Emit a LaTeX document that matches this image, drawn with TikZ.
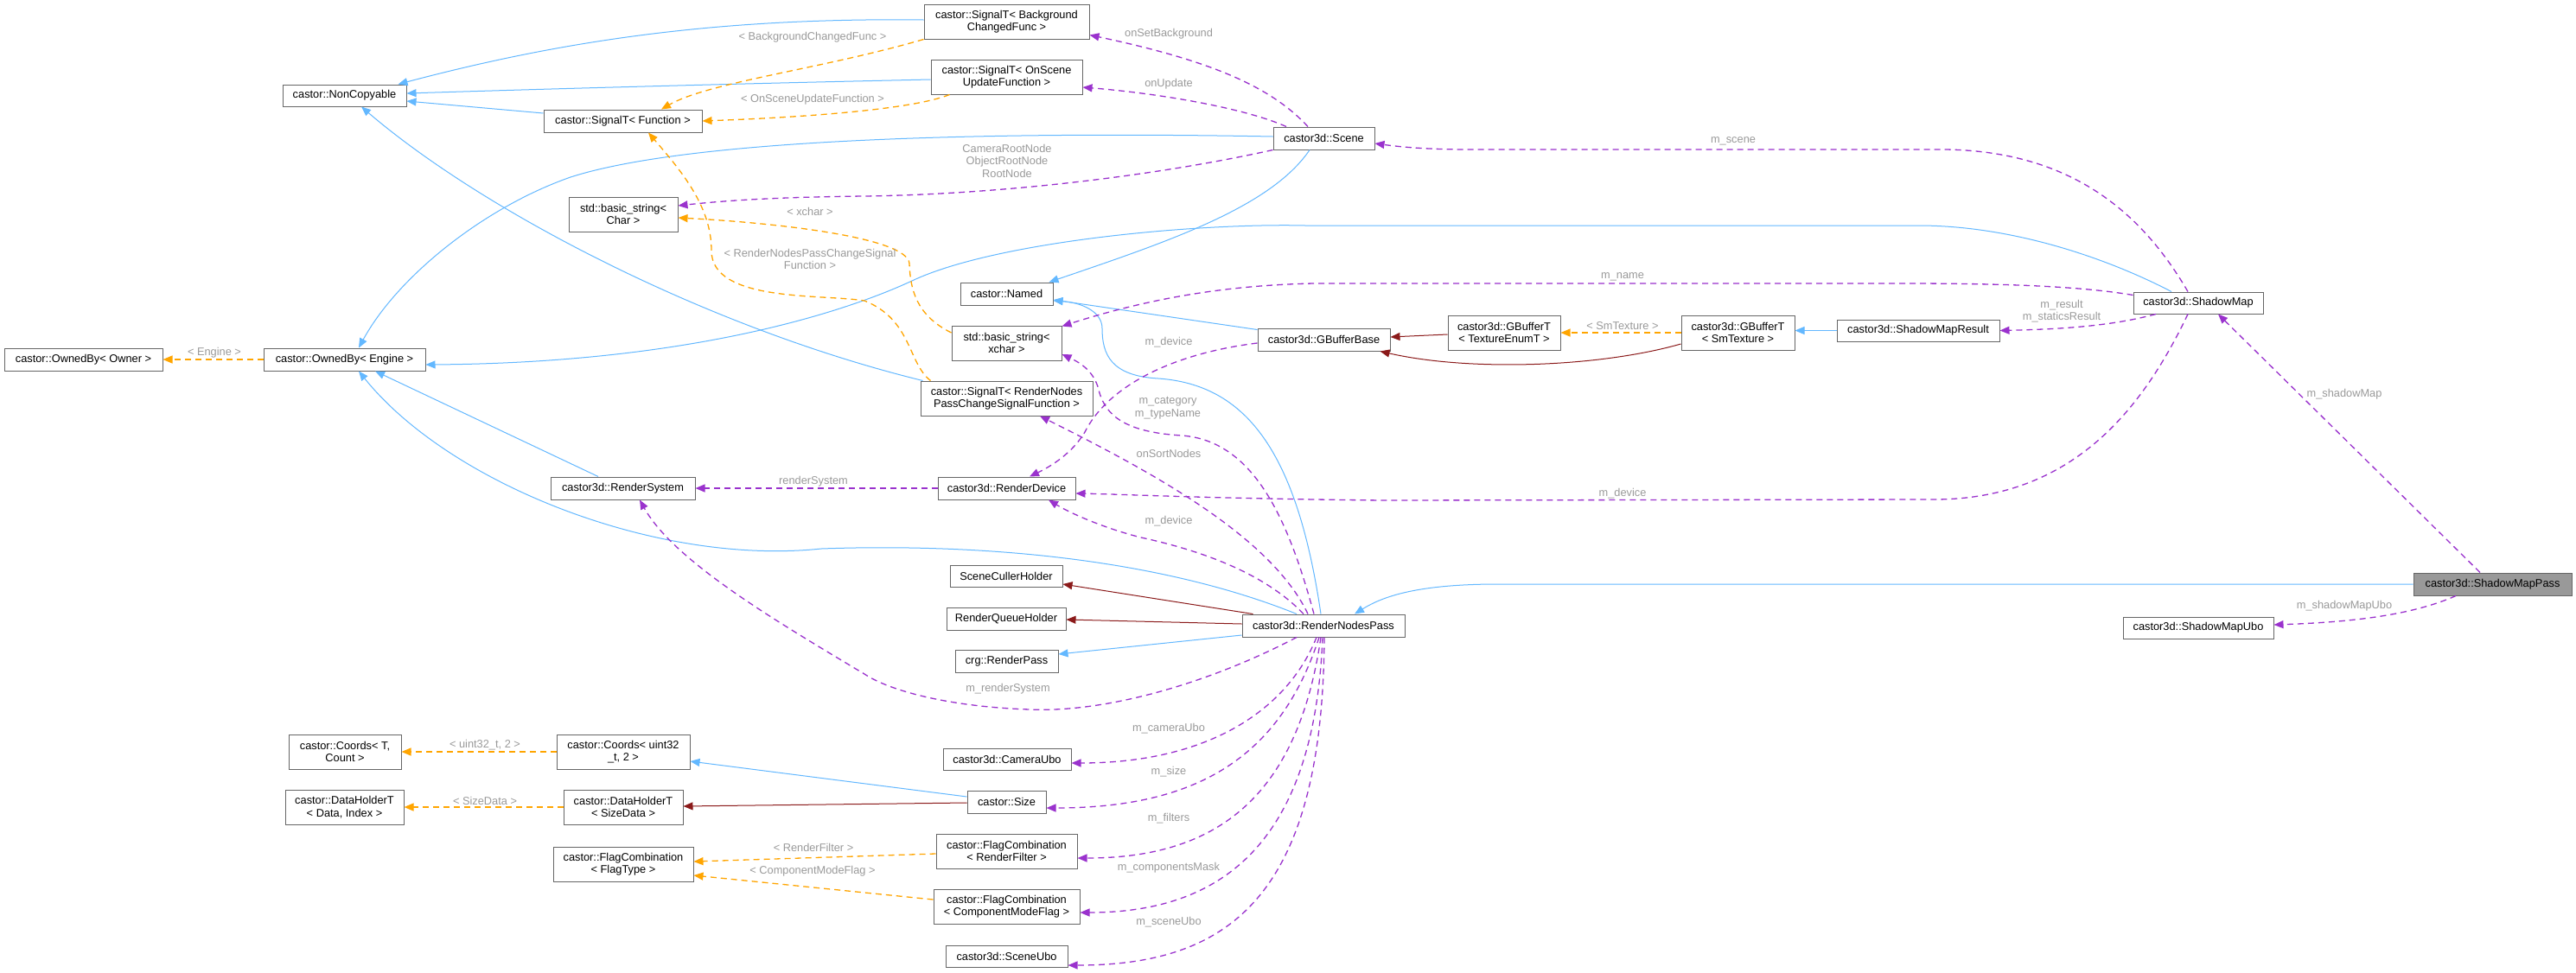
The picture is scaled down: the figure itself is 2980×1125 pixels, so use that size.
\documentclass[tikz,border=0pt]{standalone}
\usepackage{fontspec}
\setmainfont{Liberation Sans}
\usetikzlibrary{arrows.meta,calc}
\definecolor{inhblue}{HTML}{63B8FF}
\definecolor{privred}{HTML}{8B1A1A}
\definecolor{tmplorange}{HTML}{FFA500}
\definecolor{usepurple}{HTML}{9A32CD}
\definecolor{lblgray}{HTML}{9A9A9A}
\definecolor{boxborder}{HTML}{666666}
\definecolor{mainfill}{HTML}{999999}
\begin{document}
\begin{tikzpicture}[x=1pt,y=-1pt,
  cls/.style={draw=boxborder, line width=1pt, fill=white, inner sep=0pt, align=center, font=\fontsize{12.8}{14.5}\selectfont},
  mainbox/.style={cls, fill=mainfill},
  tipA/.tip={Triangle[length=11pt,width=9pt]},
  inh/.style={draw=inhblue, line width=1pt, -tipA},
  priv/.style={draw=privred, line width=1pt, -tipA},
  tmpl/.style={draw=tmplorange, line width=1.3pt, dash pattern=on 7pt off 5pt, -tipA},
  use/.style={draw=usepurple, line width=1.3pt, dash pattern=on 7pt off 5pt, -tipA},
  lbl/.style={text=lblgray, inner sep=0pt, align=center, font=\fontsize{12.8}{14.5}\selectfont}
]
\useasboundingbox (0,0) rectangle (2980,1125);
\fill[white] (0,0) rectangle (2980,1125);

% ---------- nodes ----------
\node[cls, minimum width=143pt, minimum height=25pt] (nc) at (398.5,110.5) {castor::NonCopyable};
\node[cls, minimum width=183pt, minimum height=26pt] (sigF) at (720.5,140) {castor::SignalT< Function >};
\node[cls, minimum width=126pt, minimum height=40pt] (strC) at (721,248) {std::basic\_string<\\Char >};
\node[cls, minimum width=183pt, minimum height=26pt] (obO) at (96.5,416) {castor::OwnedBy< Owner >};
\node[cls, minimum width=187pt, minimum height=26pt] (obE) at (398.5,416) {castor::OwnedBy< Engine >};
\node[cls, minimum width=191pt, minimum height=40pt] (sigBG) at (1164.5,25) {castor::SignalT< Background\\ChangedFunc >};
\node[cls, minimum width=175pt, minimum height=40pt] (sigOSU) at (1164.5,89) {castor::SignalT< OnScene\\UpdateFunction >};
\node[cls, minimum width=117pt, minimum height=26pt] (scene) at (1531.5,160) {castor3d::Scene};
\node[cls, minimum width=107pt, minimum height=26pt] (named) at (1164.5,340) {castor::Named};
\node[cls, minimum width=127pt, minimum height=40pt] (strX) at (1164.5,397) {std::basic\_string<\\xchar >};
\node[cls, minimum width=153pt, minimum height=26pt] (gbb) at (1531.5,393) {castor3d::GBufferBase};
\node[cls, minimum width=130pt, minimum height=40pt] (gbTE) at (1740,385) {castor3d::GBufferT\\< TextureEnumT >};
\node[cls, minimum width=131pt, minimum height=40pt] (gbSM) at (2010.5,385) {castor3d::GBufferT\\< SmTexture >};
\node[cls, minimum width=188pt, minimum height=25pt] (smr) at (2219,382.5) {castor3d::ShadowMapResult};
\node[cls, minimum width=150pt, minimum height=25pt] (sm) at (2543,350.5) {castor3d::ShadowMap};
\node[cls, minimum width=167pt, minimum height=26pt] (rs) at (720.5,565) {castor3d::RenderSystem};
\node[cls, minimum width=199pt, minimum height=40pt] (sigRN) at (1164.5,461) {castor::SignalT< RenderNodes\\PassChangeSignalFunction >};
\node[cls, minimum width=159pt, minimum height=26pt] (rd) at (1164.5,565) {castor3d::RenderDevice};
\node[cls, minimum width=130pt, minimum height=25pt] (sch) at (1164,666.5) {SceneCullerHolder};
\node[cls, minimum width=138pt, minimum height=26pt] (rqh) at (1164,716) {RenderQueueHolder};
\node[cls, minimum width=188pt, minimum height=26pt] (rnp) at (1531,724) {castor3d::RenderNodesPass};
\node[cls, minimum width=119pt, minimum height=26pt] (rp) at (1164.5,765) {crg::RenderPass};
\node[mainbox, minimum width=183pt, minimum height=26pt] (smp) at (2883.5,676) {castor3d::ShadowMapPass};
\node[cls, minimum width=174pt, minimum height=25pt] (smu) at (2543,726.5) {castor3d::ShadowMapUbo};
\node[cls, minimum width=130pt, minimum height=40pt] (crdT) at (399,870) {castor::Coords< T,\\Count >};
\node[cls, minimum width=154pt, minimum height=40pt] (crdU) at (721,870) {castor::Coords< uint32\\\_t, 2 >};
\node[cls, minimum width=137pt, minimum height=40pt] (dhD) at (398.5,934) {castor::DataHolderT\\< Data, Index >};
\node[cls, minimum width=138pt, minimum height=40pt] (dhS) at (721,934) {castor::DataHolderT\\< SizeData >};
\node[cls, minimum width=162pt, minimum height=40pt] (fcT) at (721,1000) {castor::FlagCombination\\< FlagType >};
\node[cls, minimum width=148pt, minimum height=25pt] (cam) at (1165,878.5) {castor3d::CameraUbo};
\node[cls, minimum width=91pt, minimum height=26pt] (size) at (1164.5,928) {castor::Size};
\node[cls, minimum width=163pt, minimum height=40pt] (fcR) at (1164.5,985) {castor::FlagCombination\\< RenderFilter >};
\node[cls, minimum width=169pt, minimum height=40pt] (fcC) at (1164.5,1049) {castor::FlagCombination\\< ComponentModeFlag >};
\node[cls, minimum width=141pt, minimum height=25pt] (sub) at (1164.5,1106.5) {castor3d::SceneUbo};

% ---------- inheritance (blue) ----------
\draw[inh] ($(sigBG.west)+(0,-2)$) .. controls (820,20) and (640,50) .. ($(nc.north east)+(-10,0)$);
\draw[inh] ($(sigOSU.west)+(0,3)$) .. controls (800,98) and (600,104) .. ($(nc.east)+(0,-2.5)$);
\draw[inh] ($(sigF.west)+(0,-9)$) -- ($(nc.east)+(0,6.5)$);
\draw[inh] ($(sigRN.north west)+(3,0)$) .. controls (820,380) and (560,245) .. ($(nc.south)+(19.5,0)$);
\draw[inh] ($(scene.west)+(0,-2)$) .. controls (1150,152) and (800,160) .. (660,205) .. controls (560,240) and (460,320) .. ($(obE.north)+(16.5,0)$);
\draw[inh] ($(sm.north)+(-31,0)$) .. controls (2440,300) and (2330,261) .. (2219,261) -- (1510,261) .. controls (1380,258) and (1150,280) .. (1055,325) .. controls (980,360) and (800,420) .. ($(obE.east)+(0,6)$);
\draw[inh] ($(rs.north)+(-28.5,0)$) -- ($(obE.south)+(35.5,0)$);
\draw[inh] ($(rnp.north)+(-31,0)$) .. controls (1350,650) and (1150,628) .. (950,635) .. controls (760,655) and (520,560) .. ($(obE.south)+(16.5,0)$);
\draw[inh] ($(rnp.north)+(-3,0)$) .. controls (1500,520) and (1440,445) .. (1340,438) .. controls (1285,435) and (1275,410) .. (1275,380) .. controls (1275,360) and (1250,350) .. ($(named.east)+(0,8)$);
\draw[inh] ($(scene.south)+(-16.5,0)$) .. controls (1470,240) and (1350,280) .. ($(named.north east)+(-5,0)$);
\draw[inh] ($(gbb.north west)+(0,2)$) -- ($(named.east)+(0,7)$);
\draw[inh] (smr.west) -- (smr.west -| gbSM.east);
\draw[inh] ($(rnp.west)+(0,11)$) -- ($(rp.east)+(0,-8)$);
\draw[inh] (smp.west) -- (1733,676) .. controls (1640,676) and (1600,690) .. ($(rnp.north)+(36,0)$);
\draw[inh] ($(size.west)+(0,-6)$) -- ($(crdU.east)+(0,11)$);

% ---------- private inheritance (dark red) ----------
\draw[priv] ($(gbTE.west)+(0,2)$) -- ($(gbb.east)+(0,-3)$);
\draw[priv] ($(gbSM.west)+(0,13)$) .. controls (1850,425) and (1700,430) .. ($(gbb.south east)+(-12,0)$);
\draw[priv] ($(rnp.north west)+(13,0)$) -- ($(sch.east)+(0,9.5)$);
\draw[priv] ($(rnp.west)+(0,-2)$) -- ($(rqh.east)+(0,1)$);
\draw[priv] ($(size.west)+(0,1)$) -- ($(dhS.east)+(0,-1)$);

% ---------- template instances (orange) ----------
\draw[tmpl] (sigBG.south west) .. controls (950,80) and (820,95) .. ($(sigF.north)+(44.5,0)$);
\draw[tmpl] ($(sigOSU.south west)+(22,0)$) .. controls (1060,125) and (950,135) .. (sigF.east);
\draw[tmpl] ($(sigRN.north west)+(12,0)$) .. controls (1050,420) and (1055,370) .. (1000,348) .. controls (950,340) and (823,350) .. (823,290) .. controls (823,240) and (790,200) .. ($(sigF.south)+(29.5,0)$);
\draw[tmpl] ($(strX.west)+(0,-12)$) .. controls (1060,365) and (1053,335) .. (1052,305) .. controls (1050,275) and (900,258) .. ($(strC.east)+(0,4)$);
\draw[tmpl] (obE.west) -- (obO.east);
\draw[tmpl] (gbSM.west) -- (gbTE.east);
\draw[tmpl] (crdU.west) -- (crdT.east);
\draw[tmpl] (dhS.west) -- (dhD.east);
\draw[tmpl] ($(fcR.west)+(0,3)$) -- ($(fcT.east)+(0,-3)$);
\draw[tmpl] ($(fcC.west)+(0,-8)$) -- ($(fcT.east)+(0,13)$);

% ---------- usage (purple) ----------
\draw[use] ($(scene.north)+(-18.5,0)$) .. controls (1470,100) and (1400,70) .. ($(sigBG.south east)+(0,-5)$);
\draw[use] ($(scene.north)+(-43.5,0)$) .. controls (1440,125) and (1340,108) .. ($(sigOSU.east)+(0,12)$);
\draw[use] (scene.south west) .. controls (1330,205) and (1150,225) .. (1000,227) .. controls (900,228) and (840,232) .. ($(strC.east)+(0,-10)$);
\draw[use] ($(sm.north)+(-12,0)$) .. controls (2480,250) and (2400,175) .. (2250,173) -- (1700,173) .. controls (1650,173) and (1620,170) .. ($(scene.east)+(0,6)$);
\draw[use] ($(sm.north west)+(0,4)$) .. controls (2400,330) and (2300,328) .. (2200,328) -- (1520,328) .. controls (1420,330) and (1330,345) .. ($(strX.north east)+(0,1)$);
\draw[use] ($(sm.south)+(-49,0)$) .. controls (2440,378) and (2380,381) .. (smr.east);
\draw[use] ($(sm.south)+(-12,0)$) .. controls (2480,470) and (2400,578) .. (2237,578) -- (1600,579) .. controls (1400,577) and (1300,572) .. ($(rd.east)+(0,6)$);
\draw[use] ($(gbb.west)+(0,4)$) .. controls (1350,410) and (1280,450) .. (1255,500) .. controls (1240,525) and (1215,540) .. ($(rd.north)+(26.5,0)$);
\draw[use] ($(rnp.north)+(-11,0)$) .. controls (1490,600) and (1450,510) .. (1367,504) .. controls (1300,500) and (1280,480) .. (1272,455) .. controls (1267,430) and (1250,420) .. ($(strX.east)+(0,13)$);
\draw[use] ($(rnp.north)+(-18,0)$) .. controls (1470,620) and (1330,545) .. ($(sigRN.south)+(38.5,0)$);
\draw[use] ($(rnp.north)+(-23,0)$) .. controls (1460,660) and (1380,635) .. (1320,622) .. controls (1280,612) and (1240,595) .. ($(rd.south)+(48.5,0)$);
\draw[use] ($(rnp.south)+(-31,0)$) .. controls (1400,790) and (1280,825) .. (1191,821) .. controls (1100,818) and (1030,800) .. (1000,780) .. controls (900,720) and (780,650) .. ($(rs.south)+(19.5,0)$);
\draw[use] ($(rnp.south)+(-8,0)$) .. controls (1490,820) and (1400,883) .. ($(cam.east)+(0,4.5)$);
\draw[use] ($(rnp.south)+(-5,0)$) .. controls (1480,880) and (1380,935) .. ($(size.east)+(0,7)$);
\draw[use] ($(rnp.south)+(-3,0)$) .. controls (1500,930) and (1400,993) .. ($(fcR.east)+(0,8)$);
\draw[use] ($(rnp.south)+(-1,0)$) .. controls (1520,990) and (1400,1056) .. ($(fcC.east)+(0,7)$);
\draw[use] ($(rnp.south)+(1,0)$) .. controls (1530,1040) and (1420,1117) .. ($(sub.east)+(0,10.5)$);
\draw[use] (rd.west) -- (rs.east);
\draw[use] ($(smp.north)+(-14.5,0)$) -- ($(sm.south)+(23,0)$);
\draw[use] ($(smp.south)+(-42.5,0)$) .. controls (2790,712) and (2720,720) .. ($(smu.east)+(0,-3.5)$);

% ---------- labels ----------
\node[lbl] (lBG) at (940,43) {< BackgroundChangedFunc >};
\node[lbl] (lOSU) at (940,115) {< OnSceneUpdateFunction >};
\node[lbl] (lRN) at (937,300) {< RenderNodesPassChangeSignal\\Function >};
\node[lbl] (lX) at (937,245) {< xchar >};
\node[lbl] (lEng) at (248,408) {< Engine >};
\node[lbl] (lSmT) at (1877,377) {< SmTexture >};
\node[lbl] (lU) at (561,862) {< uint32\_t, 2 >};
\node[lbl] (lSD) at (561,927) {< SizeData >};
\node[lbl] (lRF) at (941,981) {< RenderFilter >};
\node[lbl] (lCMF) at (940,1008) {< ComponentModeFlag >};
\node[lbl] (lOSB) at (1352,39) {onSetBackground};
\node[lbl] (lOU) at (1352,97) {onUpdate};
\node[lbl] (lRoot) at (1165,186) {CameraRootNode\\ObjectRootNode\\RootNode};
\node[lbl] (lScene) at (2005,163) {m\_scene};
\node[lbl] (lName) at (1877,320) {m\_name};
\node[lbl] (lRes) at (2385,360) {m\_result\\m\_staticsResult};
\node[lbl] (lDev1) at (1877,571) {m\_device};
\node[lbl] (lDev2) at (1352,396) {m\_device};
\node[lbl] (lCat) at (1351,472) {m\_category\\m\_typeName};
\node[lbl] (lSort) at (1352,525) {onSortNodes};
\node[lbl] (lDev3) at (1352,603) {m\_device};
\node[lbl] (lRS) at (1166,797) {m\_renderSystem};
\node[lbl] (lCam) at (1352,843) {m\_cameraUbo};
\node[lbl] (lSize) at (1352,893) {m\_size};
\node[lbl] (lFil) at (1352,947) {m\_filters};
\node[lbl] (lComp) at (1352,1004) {m\_componentsMask};
\node[lbl] (lSUbo) at (1352,1067) {m\_sceneUbo};
\node[lbl] (lRSys) at (941,557) {renderSystem};
\node[lbl] (lSMap) at (2712,456) {m\_shadowMap};
\node[lbl] (lSMU) at (2712,701) {m\_shadowMapUbo};
\end{tikzpicture}
\end{document}
